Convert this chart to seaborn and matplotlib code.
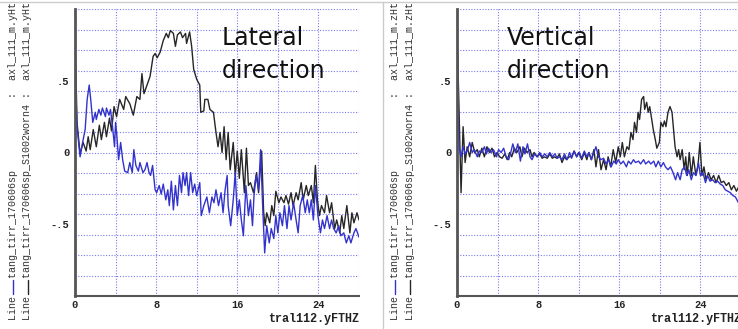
import numpy as np
import matplotlib
matplotlib.use('Agg')
import matplotlib.pyplot as plt
import seaborn as sns
from matplotlib.lines import Line2D

# ---------------------------------------------------------
# Data (x in tral112.yFTHZ units)
# ---------------------------------------------------------
# Lateral direction, worn profile (black)
lat_worn_x = [0, .2, .5, .8, 1.1, 1.3, 1.5, 1.8, 2.1, 2.4,
              2.6, 2.9, 3.1, 3.4, 3.6, 3.85, 4.1, 4.4, 4.8, 5.0,
              5.4, 5.75, 6.1, 6.4, 6.6, 6.8, 7.1, 7.4, 7.7, 7.9,
              8.1, 8.4, 8.7, 9.0, 9.2, 9.4, 9.7, 9.9, 10.1, 10.4,
              10.6, 10.9, 11.0, 11.3, 11.5, 11.7, 12.0, 12.3, 12.4, 12.7,
              12.8, 13.1, 13.3, 13.65, 13.9, 14.1, 14.3, 14.5, 14.7, 14.9,
              15.1, 15.3, 15.6, 15.8, 16.0, 16.2, 16.4, 16.7, 16.9, 17.1,
              17.3, 17.6, 17.9, 18.1, 18.4, 18.6, 18.75, 18.9, 19.2, 19.4,
              19.6, 19.8, 20.1, 20.3, 20.6, 20.8, 21.05, 21.3, 21.5, 21.8,
              22.0, 22.3, 22.5, 22.8, 23.0, 23.3, 23.5, 23.7, 23.9, 24.1,
              24.3, 24.6, 24.8, 25.1, 25.3, 25.6, 25.8, 26.1, 26.3, 26.5,
              26.8, 27.1, 27.3, 27.5, 27.8, 28.0]
lat_worn_y = [.84, .21, -.01, .07, .01, .11, .02, .16, .04, .19,
              .09, .21, .11, .24, .15, .32, .25, .37, .30, .39,
              .34, .26, .39, .37, .55, .41, .47, .53, .67, .69,
              .66, .70, .78, .83, .80, .85, .83, .74, .82, .84,
              .80, .83, .76, .84, .74, .58, .51, .47, .28, .29,
              .37, .37, .30, .28, .14, .04, .14, .0, .18, -.05,
              .14, -.12, .07, -.16, .01, -.18, .02, -.28, .03, -.23,
              -.21, -.28, -.14, -.28, .01, -.42, -.51, -.42, -.49, -.37,
              -.44, -.27, -.35, -.31, -.35, -.30, -.36, -.28, -.37, -.28,
              -.33, -.21, -.33, -.23, -.30, -.23, -.35, -.09, -.33, -.44,
              -.37, -.42, -.30, -.42, -.35, -.53, -.47, -.56, -.44, -.53,
              -.37, -.56, -.42, -.49, -.42, -.47]

# Lateral direction, new profile (blue)
lat_new_x = [0, .2, .5, .75, 1.0, 1.2, 1.4, 1.55, 1.75, 2.0,
             2.1, 2.35, 2.55, 2.7, 3.0, 3.1, 3.35, 3.5, 3.7, 3.9,
             4.0, 4.1, 4.3, 4.5, 4.7, 4.9, 5.2, 5.4, 5.65, 5.8,
             6.0, 6.25, 6.4, 6.7, 6.9, 7.1, 7.3, 7.45, 7.65, 7.9,
             8.05, 8.3, 8.5, 8.7, 8.95, 9.15, 9.3, 9.5, 9.7, 9.9,
             10.1, 10.3, 10.5, 10.65, 10.85, 11.0, 11.2, 11.4, 11.6, 11.8,
             12.0, 12.3, 12.45, 12.7, 13.0, 13.25, 13.5, 13.7, 13.9, 14.15,
             14.4, 14.6, 14.8, 15.0, 15.1, 15.35, 15.6, 15.8, 16.0, 16.2,
             16.4, 16.6, 16.85, 17.1, 17.3, 17.5, 17.65, 17.85, 18.1, 18.3,
             18.5, 18.7, 18.9, 19.15, 19.35, 19.6, 19.8, 20.0, 20.2, 20.45,
             20.65, 20.9, 21.1, 21.3, 21.55, 21.8, 22.0, 22.2, 22.45, 22.7,
             22.9, 23.1, 23.3, 23.5, 23.7, 23.95, 24.2, 24.4, 24.6, 24.85,
             25.1, 25.3, 25.5, 25.75, 26.0, 26.2, 26.5, 26.75, 27.0, 27.2,
             27.5, 27.7, 28.0]
lat_new_y = [.60, .18, -.03, .07, .16, .37, .47, .37, .21, .28,
             .23, .30, .26, .31, .25, .31, .26, .30, .18, .04,
             .21, .14, -.05, .07, -.05, -.13, -.14, -.07, -.14, .02,
             -.09, -.13, -.07, -.14, -.12, -.07, -.14, -.16, -.09, -.26,
             -.28, -.23, -.29, -.22, -.33, -.26, -.37, -.20, -.40, -.23,
             -.37, -.16, -.28, -.14, -.23, -.14, -.30, -.14, -.28, -.22,
             -.30, -.21, -.44, -.37, -.31, -.42, -.31, -.35, -.26, -.37,
             -.28, -.42, -.26, -.16, -.37, -.51, -.33, -.14, -.44, -.33,
             -.47, -.58, -.23, -.44, -.33, -.51, -.30, -.16, -.26, .02,
             -.37, -.70, -.51, -.63, -.53, -.60, -.44, -.56, -.42, -.51,
             -.37, -.53, -.37, -.47, -.35, -.47, -.56, -.37, -.30, -.42,
             -.33, -.42, -.33, -.47, -.23, -.44, -.56, -.47, -.53, -.44,
             -.53, -.47, -.53, -.56, -.51, -.58, -.56, -.63, -.58, -.63,
             -.56, -.53, -.59]

# Vertical direction, worn profile (black)
ver_worn_x = [0, .4, .6, .8, 1.0, 1.25, 1.5, 1.75, 2.0, 2.2,
              2.45, 2.7, 2.95, 3.2, 3.45, 3.7, 3.95, 4.2, 4.45, 4.7,
              4.95, 5.2, 5.4, 5.65, 5.9, 6.2, 6.4, 6.65, 6.9, 7.2,
              7.4, 7.6, 7.9, 8.15, 8.4, 8.6, 8.9, 9.15, 9.4, 9.6,
              9.85, 10.1, 10.35, 10.6, 10.8, 11.05, 11.3, 11.55, 11.8, 12.0,
              12.3, 12.55, 12.8, 13.0, 13.25, 13.5, 13.7, 13.95, 14.2, 14.45,
              14.7, 14.9, 15.15, 15.4, 15.65, 15.9, 16.1, 16.3, 16.5, 16.75,
              16.95, 17.15, 17.35, 17.5, 17.7, 17.85, 18.0, 18.2, 18.4, 18.5,
              18.7, 18.85, 19.0, 19.2, 19.35, 19.55, 19.7, 19.95, 20.1, 20.3,
              20.45, 20.6, 20.8, 21.0, 21.2, 21.35, 21.5, 21.7, 21.85, 22.0,
              22.2, 22.4, 22.55, 22.7, 22.9, 23.1, 23.3, 23.55, 23.75, 23.95,
              24.15, 24.35, 24.55, 24.8, 25.05, 25.3, 25.55, 25.8, 26.05, 26.3,
              26.55, 26.8, 27.05, 27.3, 27.55, 27.9, 28.2]
ver_worn_y = [.88, -.28, .18, -.07, .04, -.03, .07, .0, .02, -.03,
              .03, -.03, .04, .0, .03, -.03, .0, -.03, -.04, -.01,
              -.05, .0, -.03, .03, .0, .04, -.03, .03, .0, .02,
              -.03, .0, -.03, -.01, -.04, -.03, -.04, -.01, -.04, -.03,
              -.04, -.01, -.07, -.03, -.05, -.03, -.03, .01, -.03, .0,
              -.05, .0, -.05, .0, -.05, .02, -.10, .02, -.12, -.05,
              -.12, -.03, -.10, .02, -.07, .04, -.03, .07, -.03, .04,
              .02, .14, .09, .21, .14, .28, .23, .37, .39, .30,
              .35, .28, .32, .23, .16, .09, .03, .07, .21, .18,
              .22, .18, .28, .32, .28, .16, .04, -.03, .02, -.05,
              .02, -.12, -.03, -.16, .0, -.16, -.03, -.16, -.10, .07,
              -.16, -.10, -.19, -.14, -.19, -.16, -.21, -.16, -.21, -.20,
              -.23, -.21, -.26, -.23, -.27, -.22, -.25]

# Vertical direction, new profile (blue)
ver_new_x = [0, .2, .4, .6, .8, 1.05, 1.25, 1.5, 1.7, 2.0,
             2.2, 2.45, 2.7, 2.9, 3.1, 3.35, 3.6, 3.9, 4.1, 4.35,
             4.6, 4.85, 5.1, 5.3, 5.5, 5.75, 6.0, 6.25, 6.5, 6.7,
             6.95, 7.2, 7.4, 7.65, 7.9, 8.15, 8.4, 8.65, 8.9, 9.15,
             9.4, 9.65, 9.9, 10.1, 10.35, 10.6, 10.85, 11.1, 11.3, 11.55,
             11.8, 12.05, 12.3, 12.55, 12.8, 13.0, 13.25, 13.5, 13.7, 13.95,
             14.2, 14.45, 14.7, 14.95, 15.2, 15.45, 15.7, 15.9, 16.15, 16.4,
             16.7, 16.9, 17.15, 17.4, 17.6, 17.9, 18.1, 18.4, 18.6, 18.9,
             19.1, 19.4, 19.6, 19.85, 20.1, 20.35, 20.55, 20.8, 21.05, 21.3,
             21.55, 21.75, 22.0, 22.2, 22.45, 22.65, 22.85, 23.1, 23.3, 23.55,
             23.8, 24.0, 24.25, 24.5, 24.7, 24.95, 25.2, 25.45, 25.7, 25.95,
             26.2, 26.45, 26.7, 26.95, 27.2, 27.45, 27.75, 28.2]
ver_new_y = [.86, .04, -.03, .04, -.01, .02, .07, .0, .02, -.03,
             .01, .0, .04, -.01, .03, .0, .02, -.03, .02, .0,
             .03, -.03, -.05, .0, .06, .0, .06, -.06, .04, -.01,
             .06, -.03, -.05, -.01, -.03, .0, -.03, -.01, -.03, .0,
             -.03, -.01, -.04, -.03, -.05, -.01, -.05, .0, -.04, .01,
             -.03, .0, -.04, .01, -.03, .0, -.05, .0, .04, -.03,
             -.05, -.04, -.08, -.05, -.10, -.06, -.08, -.05, -.08, -.06,
             -.10, -.06, -.08, -.05, -.07, -.06, -.08, -.05, -.08, -.06,
             -.08, -.06, -.10, -.06, -.10, -.07, -.10, -.12, -.10, -.14,
             -.19, -.14, -.19, -.12, -.10, -.16, -.12, -.19, -.14, -.16,
             -.07, -.16, -.14, -.21, -.16, -.20, -.19, -.21, -.20, -.22,
             -.23, -.26, -.27, -.28, -.30, -.31, -.35, -.32]

x_ticks = [0, 8, 16, 24]
x_tick_labels = ['0', '8', '16', '24']
y_ticks = [-0.5, 0, 0.5]
y_tick_labels = ['-.5', '0', '.5']

BLACK = '#262626'
BLUE = '#3333cc'
GRID = '#7a7aee'
SPINE = '#555555'
MONO = 'Liberation Mono'

sns.set_theme(style='white')
plt.rcParams['font.family'] = ['DejaVu Sans']

W, H = 738, 329
fig = plt.figure(figsize=(W / 100, H / 100), dpi=100)


def px_axes(x0, x1, top, bottom):
    return fig.add_axes([x0 / W, (H - bottom) / H, (x1 - x0) / W, (bottom - top) / H])


def style_axes(ax):
    ax.set_xlim(0, 28)
    ax.set_ylim(-1, 1)
    ax.set_xticks(x_ticks)
    ax.set_xticklabels(x_tick_labels)
    ax.set_xticks(np.arange(0, 29, 4), minor=True)
    ax.set_yticks(y_ticks)
    ax.set_yticklabels(y_tick_labels)
    ax.set_yticks(np.arange(-7, 8) / 7, minor=True)
    ax.xaxis.remove_overlapping_locs = False
    ax.yaxis.remove_overlapping_locs = False
    ax.grid(False)
    ax.grid(which='minor', color=GRID, linestyle=(0, (1, 1.5)), linewidth=0.8)
    ax.set_axisbelow(True)
    ax.tick_params(which='minor', length=0)
    ax.tick_params(axis='x', which='major', direction='in', length=4, width=1,
                   color=SPINE, pad=3, labelsize=7.5, labelcolor='#222222')
    ax.tick_params(axis='y', which='major', length=0, pad=4,
                   labelsize=7.5, labelcolor='#222222')
    for lab in ax.get_xticklabels() + ax.get_yticklabels():
        lab.set_family(MONO)
        lab.set_weight('bold')
    for side in ['top', 'right']:
        ax.spines[side].set_visible(False)
    ax.spines['left'].set_color(SPINE)
    ax.spines['left'].set_linewidth(2)
    ax.spines['bottom'].set_color(SPINE)
    ax.spines['bottom'].set_linewidth(1.5)
    ax.set_xlabel('')
    ax.set_ylabel('')
    ax.text(1.0, -0.08, 'tral112.yFTHZ', transform=ax.transAxes, ha='right', va='center',
            family=MONO, fontweight='bold', fontsize=8.5, color='#222222')


def side_legend(x_px, channel):
    rows = [('Line   tang_tirr_170606sp            :  ' + channel, BLUE),
            ('Line   tang_tirr_170606sp_S1002worn4 :  ' + channel, BLACK)]
    for i, (s, col) in enumerate(rows):
        xp = x_px + i * 14.5
        fig.text(xp / W, (H - 320) / H, s, rotation=90, ha='center', va='bottom',
                 family=MONO, fontsize=7.2, color='#333333')
        fig.add_artist(Line2D([xp / W, xp / W], [(H - 294) / H, (H - 280) / H],
                              transform=fig.transFigure, color=col, lw=1))


# ---------------------------------------------------------
# Left panel: lateral direction
# ---------------------------------------------------------
ax1 = px_axes(75, 359, 9, 296)
sns.lineplot(x=lat_worn_x, y=lat_worn_y, ax=ax1, color=BLACK, linewidth=1,
             estimator=None, sort=False)
sns.lineplot(x=lat_new_x, y=lat_new_y, ax=ax1, color=BLUE, linewidth=1,
             estimator=None, sort=False)
style_axes(ax1)
fig.text(222 / W, (H - 45) / H, 'Lateral', va='baseline', ha='left', fontsize=17, color='#111111')
fig.text(222 / W, (H - 78) / H, 'direction', va='baseline', ha='left', fontsize=17, color='#111111')
side_legend(13, 'axl_111_m.yHt')

# ---------------------------------------------------------
# Right panel: vertical direction (cut at the right edge)
# ---------------------------------------------------------
ax2 = px_axes(457, 741, 9, 296)
sns.lineplot(x=ver_worn_x, y=ver_worn_y, ax=ax2, color=BLACK, linewidth=1,
             estimator=None, sort=False)
sns.lineplot(x=ver_new_x, y=ver_new_y, ax=ax2, color=BLUE, linewidth=1,
             estimator=None, sort=False)
style_axes(ax2)
fig.text(507 / W, (H - 45) / H, 'Vertical', va='baseline', ha='left', fontsize=17, color='#111111')
fig.text(507 / W, (H - 78) / H, 'direction', va='baseline', ha='left', fontsize=17, color='#111111')
side_legend(395, 'axl_111_m.zHt')

# screenshot frame lines
fig.add_artist(Line2D([0, 1], [1 - 1.5 / H, 1 - 1.5 / H], transform=fig.transFigure,
                      color='#cccccc', lw=1))
fig.add_artist(Line2D([383 / W, 383 / W], [0, 1 - 1.5 / H], transform=fig.transFigure,
                      color='#cccccc', lw=1))

fig.savefig('out.png', dpi=100)
plt.close(fig)
